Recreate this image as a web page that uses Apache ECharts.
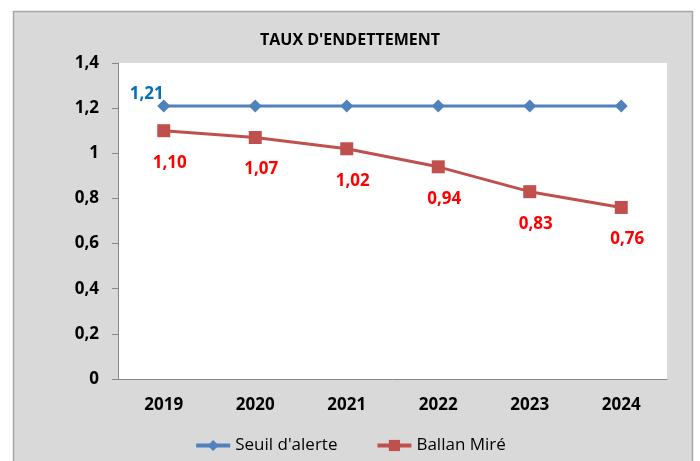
<!DOCTYPE html>
<html lang="fr">
<head>
  <meta charset="UTF-8">
  <title>Taux d'endettement</title>
  <script src="https://cdn.jsdelivr.net/npm/echarts@6/dist/echarts.min.js"></script>
</head>
<body style="margin:0">
  <div id="chart" style="width: 700px; height: 461px"></div>

  <script>
    let years = ['2019', '2020', '2021', '2022', '2023', '2024']
    let seuil = [1.21, 1.21, 1.21, 1.21, 1.21, 1.21]
    let ballan = [1.10, 1.07, 1.02, 0.94, 0.83, 0.76]

    let font = 'Open Sans'
    let comma = v => String(v).replace('.', ',')

    let myChart = echarts.init(document.getElementById('chart'))
    let option = {
      backgroundColor: '#fff',
      textStyle: { fontFamily: font },
      graphic: [{
        type: 'rect',
        z: -10,
        shape: { x: 13.5, y: 11.5, width: 679, height: 470 },
        style: { fill: '#d9d9d9', stroke: '#a6a6a6', lineWidth: 1.5 }
      }],
      title: {
        text: "TAUX D'ENDETTEMENT",
        left: 'center',
        top: 27,
        textStyle: { fontFamily: font, fontSize: 16, fontWeight: 'bold', color: '#000' }
      },
      grid: {
        left: 118, top: 63, width: 549, height: 316,
        show: true, backgroundColor: '#fff', borderWidth: 0
      },
      legend: {
        bottom: 2,
        left: 'center',
        itemWidth: 34,
        itemHeight: 14,
        itemGap: 38,
        lineStyle: { width: 4 },
        textStyle: { fontFamily: font, fontSize: 17, color: '#000' },
        data: ["Seuil d'alerte", 'Ballan Miré']
      },
      xAxis: {
        type: 'category',
        data: years,
        axisLine: { lineStyle: { color: '#868686' } },
        axisTick: { length: 6, lineStyle: { color: '#868686' } },
        axisLabel: { margin: 18, fontFamily: font, fontSize: 17, fontWeight: 'bold', color: '#000' }
      },
      yAxis: {
        type: 'value',
        min: 0,
        max: 1.4,
        interval: 0.2,
        splitLine: { show: false },
        axisLine: { show: true, lineStyle: { color: '#868686' } },
        axisTick: { show: true, length: 6, lineStyle: { color: '#868686' } },
        axisLabel: {
          margin: 19, fontFamily: font, fontSize: 17, fontWeight: 'bold', color: '#000',
          formatter: v => comma(+v.toFixed(1))
        }
      },
      series: [{
          type: 'line',
          name: "Seuil d'alerte",
          data: seuil,
          color: '#4f81bd',
          symbol: 'diamond',
          symbolSize: 13,
          lineStyle: { width: 3 },
          label: {
            show: true,
            position: 'top',
            distance: -3,
            offset: [-17, 0],
            fontFamily: font, fontSize: 17, fontWeight: 'bold', color: '#0070c0',
            formatter: p => p.dataIndex === 0 ? comma(p.value.toFixed(2)) : ''
          }
        },
        {
          type: 'line',
          name: 'Ballan Miré',
          data: ballan,
          color: '#c0504d',
          symbol: 'rect',
          symbolSize: 13,
          lineStyle: { width: 3 },
          label: {
            show: true,
            position: 'bottom',
            distance: 17,
            offset: [6, 0],
            fontFamily: font, fontSize: 17, fontWeight: 'bold', color: '#ff0000',
            formatter: p => comma(p.value.toFixed(2))
          }
        }
      ]
    }
    myChart.setOption(option)
  </script>
</body>
</html>
